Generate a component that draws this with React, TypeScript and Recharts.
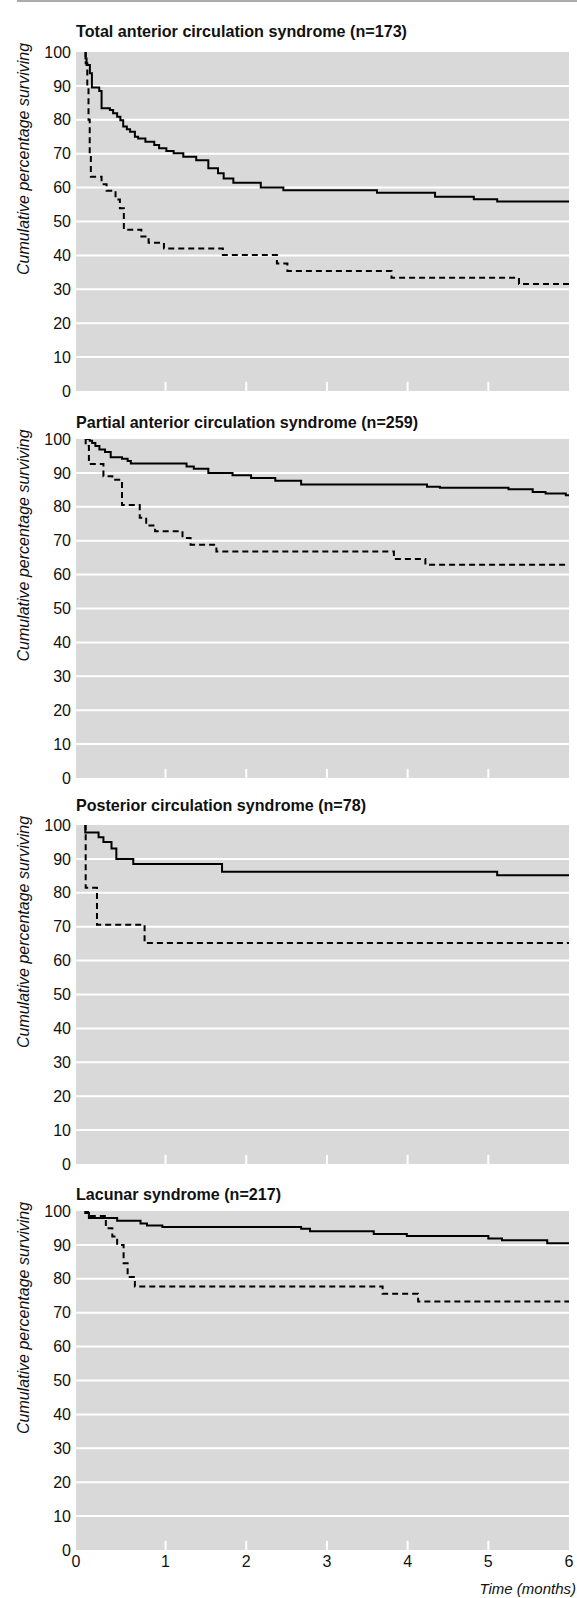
import { CartesianGrid, Line, LineChart, ReferenceLine, XAxis, YAxis } from "recharts";

// Kaplan-Meier curves as [month, % surviving]
const TACS_SOLID = [
  [0, 100], [0.008, 98.1], [0.021, 96.2], [0.062, 93.7], [0.087, 89.5], [0.178, 88.5],
  [0.207, 83.4], [0.31, 82.9], [0.35, 81.9], [0.4, 80.9], [0.44, 79.9], [0.475, 78],
  [0.52, 77.2], [0.56, 76.5], [0.62, 75], [0.66, 74.5], [0.75, 73.5], [0.86, 72.6],
  [0.92, 71.6], [1.01, 70.8], [1.1, 70.1], [1.22, 69.1], [1.38, 68.1], [1.53, 65.7],
  [1.65, 64.2], [1.72, 62.7], [1.84, 61.4], [2.18, 60], [2.46, 59.2], [3.62, 58.5],
  [4.34, 57.3], [4.82, 56.6], [5.11, 55.9], [6, 55.9],
];
const TACS_DASHED = [
  [0, 100], [0.01, 96.7], [0.03, 90], [0.045, 80], [0.06, 70], [0.074, 63.2], [0.207, 61],
  [0.269, 59.1], [0.38, 56.5], [0.434, 53.9], [0.483, 47.6], [0.7, 45.6], [0.79, 43.7],
  [0.98, 42], [1.71, 40.1], [2.38, 37.6], [2.51, 35.4], [3.8, 33.4], [5.38, 31.6], [6, 31.6],
];
const PACS_SOLID = [
  [0, 100], [0.06, 99.5], [0.09, 98.8], [0.13, 97.9], [0.18, 96.9], [0.25, 96.2], [0.32, 94.6],
  [0.46, 94.2], [0.53, 93.5], [0.57, 92.8], [1.26, 91.9], [1.35, 91.2], [1.53, 90], [1.83, 89.3],
  [2.06, 88.5], [2.36, 87.7], [2.68, 86.6], [4.24, 85.9], [4.4, 85.6], [5.25, 85.2],
  [5.55, 84.4], [5.71, 83.9], [5.96, 83.4], [6, 83.4],
];
const PACS_DASHED = [
  [0, 100], [0.01, 97.9], [0.05, 92.6], [0.23, 89], [0.34, 88], [0.46, 80.5], [0.68, 76.8],
  [0.76, 74.5], [0.87, 72.8], [1.21, 70.8], [1.31, 68.8], [1.63, 66.8], [3.83, 64.6],
  [4.22, 62.9], [6, 62.9],
];
const POCS_SOLID = [
  [0, 100], [0.005, 97.8], [0.17, 96.4], [0.23, 95], [0.33, 93.1], [0.39, 90], [0.6, 88.5],
  [1.7, 86.2], [5.11, 85.2], [6, 85.2],
];
const POCS_DASHED = [[0, 100], [0.01, 81.5], [0.15, 70.6], [0.74, 65.2], [6, 65.2]];
const LACS_SOLID = [
  [0, 100], [0.005, 99.4], [0.05, 97.9], [0.4, 97.1], [0.69, 96.3], [0.77, 95.7], [0.96, 95.3],
  [2.68, 94.8], [2.79, 94], [3.58, 93.2], [3.99, 92.6], [5.0, 91.9], [5.17, 91.4],
  [5.73, 90.5], [6, 90.5],
];
const LACS_DASHED = [
  [0, 100], [0.04, 98.5], [0.26, 94.9], [0.34, 92.5], [0.4, 90], [0.48, 84.6], [0.53, 80.5],
  [0.62, 77.7], [3.69, 75.6], [4.13, 73.3], [6, 73.3],
];

const TITLES = [
  "Total anterior circulation syndrome (n=173)",
  "Partial anterior circulation syndrome (n=259)",
  "Posterior circulation syndrome (n=78)",
  "Lacunar syndrome (n=217)",
];
const AXIS_START = -0.11;
const MONTH_TICKS = [1, 2, 3, 4, 5, 6];
const INNER_TICK_MONTHS = [1, 2, 3, 4, 5];
const PERCENT_TICKS = [0, 10, 20, 30, 40, 50, 60, 70, 80, 90, 100];
const GRID_VALUES = [10, 20, 30, 40, 50, 60, 70, 80, 90];
const Y_LABEL = "Cumulative percentage surviving";
const X_LABEL = "Time (months)";

// layout
const W = 577;
const H = 1598;
const PLOT_H = 339;
const PAD = 12;
const PANELS = [
  { top: 52, titleY: 36.5, titleW: 331, solid: TACS_SOLID, dashed: TACS_DASHED },
  { top: 438.5, titleY: 427.5, titleW: 342, solid: PACS_SOLID, dashed: PACS_DASHED },
  { top: 825, titleY: 811, titleW: 290, solid: POCS_SOLID, dashed: POCS_DASHED },
  { top: 1211, titleY: 1200, titleW: 205, solid: LACS_SOLID, dashed: LACS_DASHED },
];
const FONT = "'Liberation Sans', Arial, sans-serif";
const tickStyle = { fill: "#111", fontSize: 16 };

const toRows = (pairs: number[][]) => pairs.map(([t, v]) => ({ t, v }));

function Panel({ top, solid, dashed, showX }: { top: number; solid: number[][]; dashed: number[][]; showX: boolean }) {
  return (
    <div style={{ position: "absolute", left: 0, top: top - PAD, width: W }}>
      <LineChart
        width={W}
        height={PLOT_H + PAD + (showX ? 26 : PAD)}
        margin={{ top: PAD, right: 8, bottom: showX ? 0 : PAD, left: 0 }}
      >
        <CartesianGrid fill="#d9d9d9" stroke="#fff" strokeWidth={2} vertical={false} horizontalValues={GRID_VALUES} />
        <XAxis
          type="number"
          dataKey="t"
          domain={[AXIS_START, 6]}
          ticks={[AXIS_START, ...MONTH_TICKS]}
          tickFormatter={(m: number) => (m === AXIS_START ? "0" : String(m))}
          interval={0}
          allowDataOverflow
          hide={!showX}
          height={26}
          axisLine={false}
          tickLine={false}
          tickSize={0}
          tickMargin={6}
          tick={tickStyle}
        />
        <YAxis
          type="number"
          domain={[0, 100]}
          ticks={PERCENT_TICKS}
          interval={0}
          allowDataOverflow
          width={76}
          axisLine={false}
          tickLine={false}
          tickSize={0}
          tickMargin={5}
          tick={tickStyle}
        />
        {INNER_TICK_MONTHS.map((m) => (
          <ReferenceLine key={m} segment={[{ x: m, y: 0 }, { x: m, y: 2.7 }]} stroke="#fff" strokeWidth={2} />
        ))}
        <Line
          data={toRows(dashed)}
          type="stepAfter"
          dataKey="v"
          stroke="#000"
          strokeWidth={2}
          strokeDasharray="6 4"
          dot={false}
          isAnimationActive={false}
        />
        <Line
          data={toRows(solid)}
          type="stepAfter"
          dataKey="v"
          stroke="#000"
          strokeWidth={2}
          dot={false}
          isAnimationActive={false}
        />
      </LineChart>
    </div>
  );
}

export default function App() {
  return (
    <div style={{ position: "absolute", left: 0, top: 0, width: W, height: H, background: "#fff", fontFamily: FONT }}>
      <svg width={W} height={H} style={{ position: "absolute", left: 0, top: 0 }}>
        <line x1={17} y1={1} x2={W} y2={1} stroke="#aaa" strokeWidth={2} />
        {PANELS.map((p, i) => (
          <g key={i}>
            <text
              x={76}
              y={p.titleY}
              fontSize={17}
              fontWeight="bold"
              fill="#111"
              textLength={p.titleW}
              lengthAdjust="spacingAndGlyphs"
            >
              {TITLES[i]}
            </text>
            <text
              transform={`translate(23 ${p.top + 107}) rotate(-90)`}
              textAnchor="middle"
              dy="0.35em"
              fontSize={16}
              fontStyle="italic"
              fill="#111"
            >
              {Y_LABEL}
            </text>
          </g>
        ))}
        <text x={576} y={1594} textAnchor="end" fontSize={15} fontStyle="italic" fill="#111">
          {X_LABEL}
        </text>
      </svg>
      {PANELS.map((p, i) => (
        <Panel key={i} top={p.top} solid={p.solid} dashed={p.dashed} showX={i === PANELS.length - 1} />
      ))}
    </div>
  );
}
